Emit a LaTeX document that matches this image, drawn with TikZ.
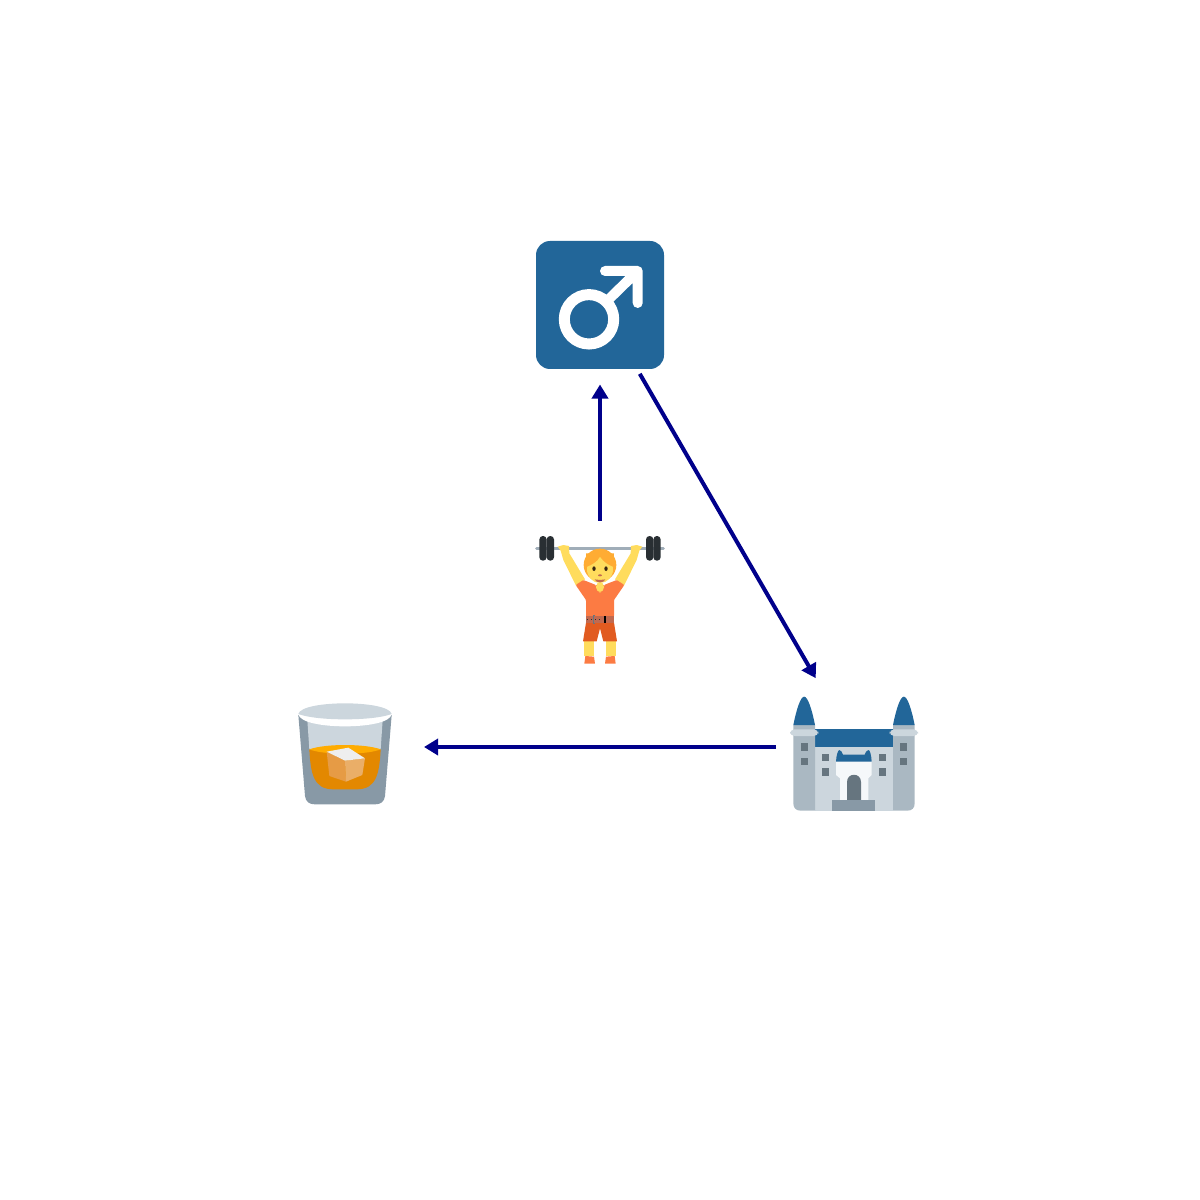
\documentclass[tikz,border=0pt]{standalone}
\usepackage{tikz}
\usetikzlibrary{
  arrows.meta,
  positioning
}
\definecolor{emblue}{HTML}{226699}
\definecolor{linkblue}{HTML}{00008B}
\definecolor{towergrey}{HTML}{AAB8C2}
\definecolor{wallgrey}{HTML}{CCD6DD}
\definecolor{slategrey}{HTML}{66757F}
\definecolor{stepgrey}{HTML}{8899A6}
\definecolor{paleblue}{HTML}{F5F8FA}
\definecolor{skin}{HTML}{FFDC5D}
\definecolor{hair}{HTML}{FFAC33}
\definecolor{shirt}{HTML}{FC7B43}
\definecolor{shorts}{HTML}{E15B20}
\definecolor{beltbrown}{HTML}{C1694F}
\definecolor{iron}{HTML}{292F33}
\definecolor{whisky}{HTML}{E38800}
\definecolor{whiskytop}{HTML}{FFAC00}
\definecolor{cubetop}{HTML}{EEEEEE}
\definecolor{cubeleft}{HTML}{E69B45}
\definecolor{cuberight}{HTML}{EAAE68}
\tikzset{
  iconspot/.style={circle, minimum size=3.18cm, inner sep=0, outer sep=0},
  link/.style={-{Triangle[length=2.8mm, width=3.2mm]}, draw=linkblue, line width=0.8mm},
  zoomed/.style={scale=1/3}
}

\begin{document}
\begin{tikzpicture}[x=0.2mm, y=-0.2mm]
  \useasboundingbox (0, 0) rectangle (1200, 1200);

  \node[iconspot] (male) at (600, 305) {};
  \node[iconspot] (lifter) at (600, 600) {};
  \node[iconspot] (castle) at (855.5, 747) {};
  \node[iconspot] (glass) at (344.5, 747) {};

  % male sign
  \fill[emblue, rounded corners=2.8mm] (536, 241) rectangle (664, 369);
  \draw[white, line width=2.2mm] (589, 319.3) circle (24.7);
  \draw[white, line width=2mm, line cap=round, line join=round]
    (606, 302) -- (637.7, 271) (605, 271) -- (637.7, 271) -- (637.7, 303);

  % lifter
  \begin{scope}[shift={(520, 520)}, zoomed]
    \draw[stepgrey!80, line width=0.66mm, line cap=round] (50, 85) -- (430, 85);
    \foreach \wx in {58, 80, 378, 400} {
      \fill[iron, rounded corners=0.7mm] (\wx, 48) rectangle (\wx + 22, 122);
    }
    \foreach \sgn in {1, -1} {
      \begin{scope}[shift={(240, 0)}, xscale=\sgn]
        \fill[skin] (-127, 80) -- (-110, 75) -- (-93, 78) -- (-92, 100)
          -- (-45, 178) -- (-72, 197) -- (-110, 120) -- (-118, 92) -- cycle;
        \fill[skin] (-18, 408) rectangle (-48, 364);
        \fill[shirt, rounded corners=0.2mm] (-50, 180) -- (-12, 195) -- (-12, 290)
          -- (-42, 290) -- (-42, 240) -- (-73, 195) -- cycle;
        \fill[shirt] (-15, 431) -- (-18, 410) -- (-44, 408) -- (-47, 431) -- cycle;
      \end{scope}
    }
    \fill[shirt] (228, 195) rectangle (252, 290);
    \fill[shorts] (198, 308) -- (282, 308) -- (291, 364) -- (250, 364) -- (240, 325)
      -- (230, 364) -- (189, 364) -- cycle;
    \fill[beltbrown] (198, 288) rectangle (282, 310);
    \draw[iron, dotted, line width=0.15mm] (200, 299) -- (250, 299);
    \draw[slategrey, line width=0.2mm] (226, 287) -- (220, 287) -- (220, 311) -- (226, 311);
    \fill[black] (251, 287) rectangle (258, 310);
    % head
    \fill[skin, rounded corners=1mm] (228, 185) rectangle (252, 217);
    \fill[hair] (240, 135) circle (49);
    \fill[skin] (240, 148) ellipse (39 and 41);
    \fill[hair] (201, 140) .. controls (215, 135) and (232, 125) .. (240, 110)
      .. controls (250, 125) and (265, 135) .. (279, 140) -- (282, 100) -- (198, 100) -- cycle;
    \fill[black!70!brown] (222, 146) ellipse (5 and 7);
    \fill[black!70!brown] (258, 146) ellipse (5 and 7);
    \fill[beltbrown] (240, 166) ellipse (6 and 3);
    \fill[beltbrown] (224, 178) .. controls (232, 180) and (248, 180) .. (256, 178)
      .. controls (252, 190) and (228, 190) .. (224, 178) -- cycle;
  \end{scope}

  % castle
  \begin{scope}[shift={(770, 680)}, zoomed]
    \fill[wallgrey] (135, 195) rectangle (369, 392);
    \fill[emblue] (135, 148) rectangle (369, 200);
    \foreach \sgn/\tx in {1/0, -1/504} {
      \begin{scope}[shift={(\tx, 0)}, xscale=\sgn]
        \fill[towergrey] (135, 135) -- (70, 135) -- (70, 370)
          .. controls (70, 384) and (78, 392) .. (92, 392) -- (135, 392) -- cycle;
        \fill[wallgrey, rounded corners=0.9mm] (60, 148) rectangle (145, 168);
        \fill[emblue] (70, 135) .. controls (80, 85) and (92, 50) .. (102.5, 50)
          .. controls (113, 50) and (125, 85) .. (135, 135) -- cycle;
        \foreach \wy in {190, 233} {
          \fill[slategrey] (92, \wy) rectangle (113, \wy + 22);
        }
      \end{scope}
    }
    \foreach \wx in {156, 327} {
      \foreach \wy in {222, 265} {
        \fill[slategrey] (\wx, \wy) rectangle (\wx + 21, \wy + 22);
      }
    }
    \fill[paleblue] (198, 240) -- (305, 240) -- (305, 285) -- (295, 295) -- (295, 360)
      -- (210, 360) -- (210, 295) -- (198, 285) -- cycle;
    \fill[emblue] (198, 245) .. controls (199, 225) and (204, 210) .. (208, 210)
      .. controls (213, 210) and (217, 218) .. (219, 224) -- (284, 224)
      .. controls (286, 218) and (290, 210) .. (295, 210)
      .. controls (300, 210) and (304, 225) .. (305, 245) -- cycle;
    \fill[slategrey] (231, 362) -- (231, 306) .. controls (231, 277) and (273, 277) .. (273, 306)
      -- (273, 362) -- cycle;
    \fill[stepgrey] (187, 360) rectangle (316, 392);
  \end{scope}

  % tumbler
  \begin{scope}[shift={(280, 690)}, zoomed]
    \fill[stepgrey] (55, 75) -- (75, 318)
      .. controls (77, 335) and (88, 343) .. (104, 343) -- (286, 343)
      .. controls (302, 343) and (313, 335) .. (315, 318) -- (335, 75) -- cycle;
    \fill[wallgrey] (82, 90) -- (88, 178) -- (302, 178) -- (308, 90) -- cycle;
    \fill[whisky] (88, 178) .. controls (92, 250) and (100, 298) .. (160, 298) -- (230, 298)
      .. controls (290, 298) and (298, 250) .. (302, 178) -- cycle;
    \fill[whiskytop] (88, 178) .. controls (110, 170) and (150, 165) .. (195, 165)
      .. controls (240, 165) and (280, 170) .. (302, 178)
      .. controls (280, 187) and (240, 191) .. (195, 191)
      .. controls (150, 191) and (110, 187) .. (88, 178) -- cycle;
    \fill[cubeleft] (140, 185) -- (195, 212) -- (198, 275) -- (148, 258) -- cycle;
    \fill[cuberight] (195, 212) -- (255, 205) -- (247, 255) -- (198, 275) -- cycle;
    \fill[cubetop] (140, 185) -- (205, 173) -- (255, 205) -- (195, 212) -- cycle;
    \fill[white] (55, 72) .. controls (58, 98) and (130, 109) .. (195, 109)
      .. controls (260, 109) and (332, 98) .. (335, 72)
      .. controls (330, 50) and (260, 40) .. (195, 40)
      .. controls (130, 40) and (60, 50) .. (55, 72) -- cycle;
    \fill[wallgrey] (55, 72) .. controls (85, 83) and (140, 88) .. (195, 88)
      .. controls (250, 88) and (305, 83) .. (335, 72)
      .. controls (330, 50) and (260, 40) .. (195, 40)
      .. controls (130, 40) and (60, 50) .. (55, 72) -- cycle;
  \end{scope}

  \draw[link] (lifter) -- (male);
  \draw[link] (male) -- (castle);
  \draw[link] (castle) -- (glass);
\end{tikzpicture}
\end{document}
